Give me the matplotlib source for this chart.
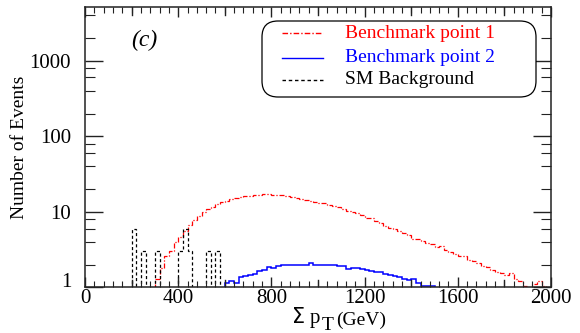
import matplotlib
matplotlib.use("Agg")
import matplotlib.pyplot as plt
import numpy as np
from matplotlib.patches import FancyBboxPatch
from matplotlib.lines import Line2D
from matplotlib.transforms import IdentityTransform
from matplotlib.ticker import FixedLocator, NullFormatter

plt.rcParams['font.family'] = ['Liberation Serif', 'DejaVu Serif']

# Benchmark point 1, 20 GeV bins starting at 280 GeV
bp1_start = 280
bp1 = [0.9, 1.3, 1.8, 2.6, 3.0, 4.0, 4.6, 5.6, 6.6, 7.9,
       8.8, 9.8, 10.9, 11.6, 12.6, 13.3, 14.0, 14.7, 15.2, 15.6,
       16.0, 16.4, 16.6, 16.9, 17.3, 17.0, 16.9, 16.6, 16.5, 16.1,
       15.8, 15.3, 14.9, 14.4, 13.7, 13.5, 13.1, 12.9, 12.4, 11.9,
       11.4, 11.0, 10.3, 9.9, 9.5, 9.1, 8.2, 8.3, 7.6, 7.0,
       6.5, 6.1, 6.0, 5.5, 5.2, 4.9, 4.4, 4.4, 4.1, 3.9,
       3.8, 3.4, 3.5, 3.1, 2.9, 2.8, 2.6, 2.6, 2.3, 2.2,
       2.1, 1.9, 1.85, 1.7, 1.6, 1.55, 1.45, 1.55, 1.3, 1.2,
       1.05, 0.95, 1.1, 1.2, 1.05, 0.95]

# Benchmark point 2, 20 GeV bins starting at 580 GeV
bp2_start = 580
bp2 = [0.95, 1.15, 1.2, 1.15, 1.35, 1.4, 1.45, 1.5, 1.65, 1.7,
       1.85, 1.8, 1.9, 1.95, 2.0, 2.0, 2.0, 2.0, 1.95, 2.1,
       1.98, 1.95, 2.0, 2.0, 1.95, 1.9, 1.9, 1.75, 1.8, 1.8,
       1.75, 1.7, 1.65, 1.6, 1.6, 1.5, 1.45, 1.4, 1.35, 1.3,
       1.25, 1.3, 1.15, 1.03, 1.03, 1.03]

# SM background spikes (bin centre, events), 20 GeV wide
sm_centres = [220, 260, 320, 420, 440, 460, 540, 580]
sm_counts = [6, 3, 3, 3, 6, 3, 3, 3]

BIN = 20
W, H = 580, 333

fig = plt.figure(figsize=(W / 100, H / 100), dpi=100)
ax = fig.add_axes((85 / W, 1 - 287.3 / H, 466 / W, 280 / H))


def edges_for(start, n):
    return start + BIN * np.arange(n + 1)


def pad(vals):
    # drop below the axis at both ends so the step closes
    return [0.1] + list(vals) + [0.1]


e1 = edges_for(bp1_start - BIN, len(bp1) + 2)
ax.stairs(pad(bp1), e1, baseline=None, color='#ff0000', lw=0.9,
          linestyle=(0, (4, 1.5, 1, 1.5)))

e2 = edges_for(bp2_start - BIN, len(bp2) + 2)
ax.stairs(pad(bp2), e2, baseline=None, color='#0000ff', lw=1.1)

# background histogram built from the spike list
sm_edges = np.arange(150, 650, BIN) + 10
sm_vals = np.full(len(sm_edges) - 1, 0.1)
for c, n in zip(sm_centres, sm_counts):
    sm_vals[np.searchsorted(sm_edges, c) - 1] = n
ax.stairs(sm_vals, sm_edges, baseline=None, color='black', lw=0.9,
          linestyle=(0, (2.5, 2)))

ax.set_yscale('log')
ax.set_xlim(0, 2000)
ax.set_ylim(1, 5100)

ax.set_xticks([0, 400, 800, 1200, 1600, 2000])
ax.set_xticklabels(['0', '400', '800', '1200', '1600', '2000'])
ax.xaxis.set_minor_locator(FixedLocator(np.arange(0, 2001, 40)))
ax.set_yticks([1, 10, 100, 1000])
ax.set_yticklabels(['1', '10', '100', '1000'])
yminor = [m * 10 ** d for d in range(0, 4) for m in (2, 4, 6, 8)]
ax.yaxis.set_minor_locator(FixedLocator(yminor))
ax.yaxis.set_minor_formatter(NullFormatter())

ax.tick_params(which='both', direction='in', top=True, right=True,
               color='#222222', labelsize=15)
ax.tick_params(axis='x', which='major', length=7, width=1, pad=1)
ax.tick_params(axis='x', which='minor', length=4, width=0.8)
ax.tick_params(axis='y', which='major', length=13, width=1, pad=10)
ax.tick_params(axis='y', which='minor', length=7, width=0.8)
# the "1" label sits a little above its tick in the original
ax.get_yticklabels()[0].set_va('baseline')
# longer ticks every 200 GeV
for xv in range(200, 2000, 400):
    ax.axvline(xv, ymin=0, ymax=0.027, color='#222222', lw=1)
    ax.axvline(xv, ymin=0.973, ymax=1, color='#222222', lw=1)
for s in ax.spines.values():
    s.set_color('#222222')
    s.set_linewidth(1.1)

ax.set_ylabel('Number of Events', fontsize=14)
ax.yaxis.set_label_coords(-0.122, 0.5)


def fxy(x, y):
    return x / W, 1 - y / H


# x axis label pieces
fig.text(*fxy(321, 317), r'$\Sigma$ p', fontsize=15, ha='right', va='center')
fig.text(*fxy(328, 326), 'T', fontsize=14, ha='center', va='center')
fig.text(*fxy(336, 312), '(GeV)', fontsize=14, ha='left', va='top')

fig.text(*fxy(144, 40), '(c)', fontsize=17, style='italic',
         ha='center', va='center')

# legend box with rounded corners
box = FancyBboxPatch((262, H - 97), 274, 76,
                     boxstyle='round,pad=0,rounding_size=16',
                     transform=IdentityTransform(), facecolor='white',
                     edgecolor='black', lw=0.9)
fig.patches.append(box)

rows = [
    ('Benchmark point 1', '#ff0000', (0, (4, 1.5, 1, 1.5)), 33),
    ('Benchmark point 2', '#0000ff', '-', 57.5),
    ('SM Background', 'black', (0, (2.5, 2)), 80),
]
for label, col, ls, y in rows:
    fig.lines.append(Line2D([282 / W, 323 / W], [1 - y / H, 1 - y / H],
                            transform=fig.transFigure, color=col,
                            linestyle=ls, lw=1))
    fig.text(*fxy(345, y), label, color=col, fontsize=14,
             ha='left', va='center')

fig.savefig('out.png', dpi=100)
